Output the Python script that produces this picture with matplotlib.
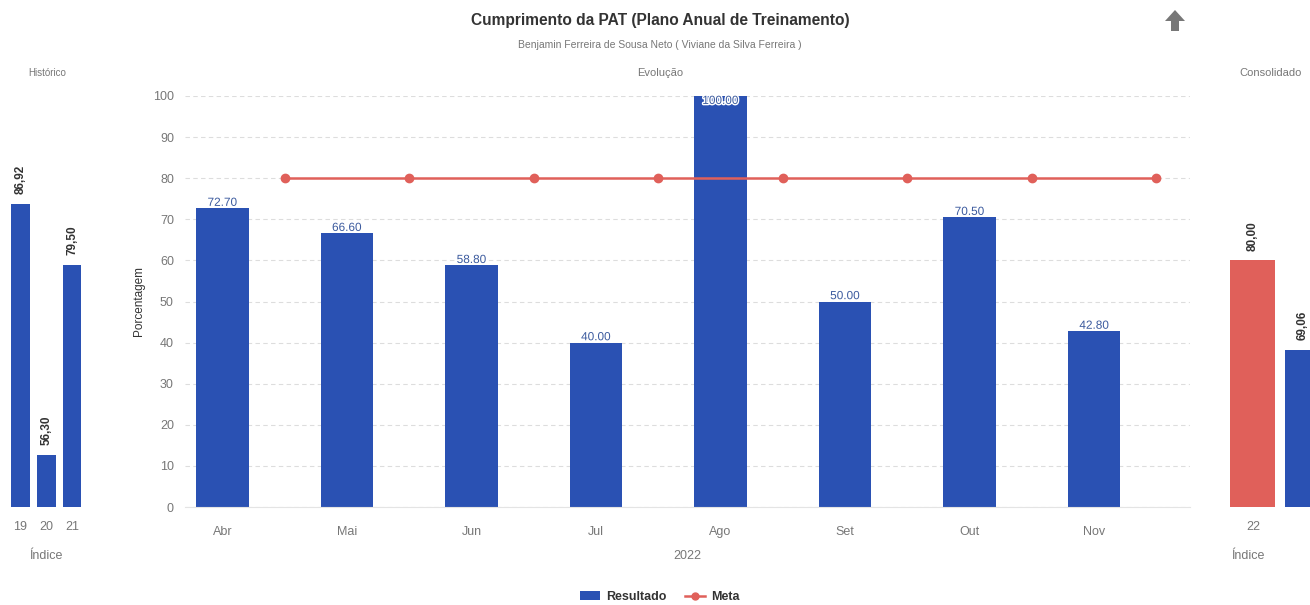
import numpy as np
import matplotlib
matplotlib.use('Agg')
import matplotlib.pyplot as plt
import matplotlib.patheffects as pe
from matplotlib.patches import Polygon
from matplotlib.lines import Line2D
from matplotlib.patches import Patch

plt.rcParams['font.family'] = ['Liberation Sans', 'DejaVu Sans']

# monthly results for 2022
meses = ['Abr', 'Mai', 'Jun', 'Jul', 'Ago', 'Set', 'Out', 'Nov']
resultado = [72.70, 66.60, 58.80, 40.00, 100.00, 50.00, 70.50, 42.80]
meta = [80, 80, 80, 80, 80, 80, 80, 80]

# yearly history
anos_hist = ['19', '20', '21']
valores_hist = [86.92, 56.30, 79.50]

# consolidated current year
ano_cons = '22'
meta_cons = 80.00
resultado_cons = 69.06

AZUL = '#2a51b3'
VERMELHO = '#e0605a'
CINZA = '#777777'

W, H = 1310, 605
fig = plt.figure(figsize=(W / 100, H / 100), dpi=100)
fig.patch.set_facecolor('white')


def box(x0, x1, y0, y1):
    return [x0 / W, 1 - y1 / H, (x1 - x0) / W, (y1 - y0) / H]


def limpar(ax):
    for s in ['top', 'right', 'left']:
        ax.spines[s].set_visible(False)
    ax.spines['bottom'].set_color('#e4e4e4')
    ax.tick_params(length=0, colors=CINZA, labelsize=9)


# main chart
ax = fig.add_axes(box(185, 1190, 96, 507))
x = np.arange(len(meses))
ax.bar(x, resultado, width=0.42, color=AZUL, zorder=2)
ax.plot(x + 0.5, meta, color=VERMELHO, lw=1.8, marker='o', ms=6, zorder=3)
for xi, v in zip(x, resultado):
    ax.text(xi, min(v + 1.3, 98.8), f'{v:.2f}', ha='center', va='center', fontsize=8.5,
            color='#3b5a9e', zorder=4,
            path_effects=[pe.withStroke(linewidth=2, foreground='white')])
ax.set_xlim(-0.3, 7.77)
ax.set_ylim(0, 100)
ax.set_yticks(range(0, 101, 10))
ax.set_xticks(x)
ax.set_xticklabels(meses)
ax.grid(axis='y', color='#dddddd', ls=(0, (4, 3)), lw=0.8, zorder=0)
limpar(ax)
ax.tick_params(axis='x', pad=14)
ax.tick_params(axis='y', pad=8)
ax.set_ylabel('Porcentagem', fontsize=8.5, color='#333333', labelpad=6)
ax.set_xlabel('2022', fontsize=9, color=CINZA, labelpad=8)

# history panel
axh = fig.add_axes(box(7.6, 84.9, 96, 507))
xh = np.arange(len(anos_hist))
axh.bar(xh, valores_hist, width=0.73, color=AZUL)
for xi, v in zip(xh, valores_hist):
    axh.text(xi, v + 1.2, f'{v:.2f}'.replace('.', ','), rotation=90,
             ha='center', va='bottom', fontsize=8.5, fontweight='bold', color='#333333')
axh.set_xlim(-0.5, 2.5)
axh.set_ylim(50, 100)
axh.set_yticks([])
axh.set_xticks(xh)
axh.set_xticklabels(anos_hist)
limpar(axh)
axh.spines['bottom'].set_visible(False)
axh.tick_params(axis='x', pad=10)
axh.set_xlabel('Índice', fontsize=9, color=CINZA)
axh.xaxis.set_label_coords(0.5, -0.105)

# consolidated panel (runs past the right edge)
axc = fig.add_axes(box(1220, 1360, 96, 507))
axc.bar([0], [meta_cons], width=0.82, color=VERMELHO)
axc.bar([1], [resultado_cons], width=0.82, color=AZUL)
for xi, v in zip([0, 0.9], [meta_cons, resultado_cons]):
    axc.text(xi, v + 1.2, f'{v:.2f}'.replace('.', ','), rotation=90,
             ha='center', va='bottom', fontsize=8.5, fontweight='bold', color='#333333')
axc.set_xlim(-0.6, 1.95)
axc.set_ylim(50, 100)
axc.set_yticks([])
axc.set_xticks([0])
axc.set_xticklabels([ano_cons])
limpar(axc)
axc.spines['bottom'].set_visible(False)
axc.tick_params(axis='x', pad=10)
axc.set_xlabel('Índice', fontsize=9, color=CINZA)
axc.xaxis.set_label_coords(0.2, -0.105)

# titles
fig.text(660 / W, 1 - 20 / H, 'Cumprimento da PAT (Plano Anual de Treinamento)',
         ha='center', va='center', fontsize=11.2, fontweight='bold', color='#333333')
fig.text(660 / W, 1 - 45 / H, 'Benjamin Ferreira de Sousa Neto ( Viviane da Silva Ferreira )',
         ha='center', va='center', fontsize=7.5, color=CINZA)
fig.text(660 / W, 1 - 73 / H, 'Evolução', ha='center', va='center', fontsize=8, color=CINZA)
fig.text(47 / W, 1 - 73 / H, 'Histórico', ha='center', va='center', fontsize=7, color=CINZA)
fig.text(1271 / W, 1 - 73 / H, 'Consolidado', ha='center', va='center', fontsize=8, color=CINZA)

# up arrow icon
seta = np.array([[1175, 10], [1185, 21], [1179, 21], [1179, 31],
                 [1171, 31], [1171, 21], [1165, 21]], dtype=float)
seta[:, 0] /= W
seta[:, 1] = 1 - seta[:, 1] / H
fig.patches.append(Polygon(seta, closed=True, transform=fig.transFigure,
                           facecolor='#777777', edgecolor='none'))

# legend
handles = [Patch(facecolor=AZUL, label='Resultado'),
           Line2D([], [], color=VERMELHO, marker='o', ms=5, lw=1.8, label='Meta')]
leg = fig.legend(handles=handles, loc='center', bbox_to_anchor=(660 / W, 1 - 597 / H),
                 ncol=2, frameon=False, fontsize=9, handlelength=1.6,
                 columnspacing=1.5, handletextpad=0.5)
for t in leg.get_texts():
    t.set_color('#333333')
    t.set_fontweight('bold')

fig.savefig('out.png', dpi=100, facecolor='white')
